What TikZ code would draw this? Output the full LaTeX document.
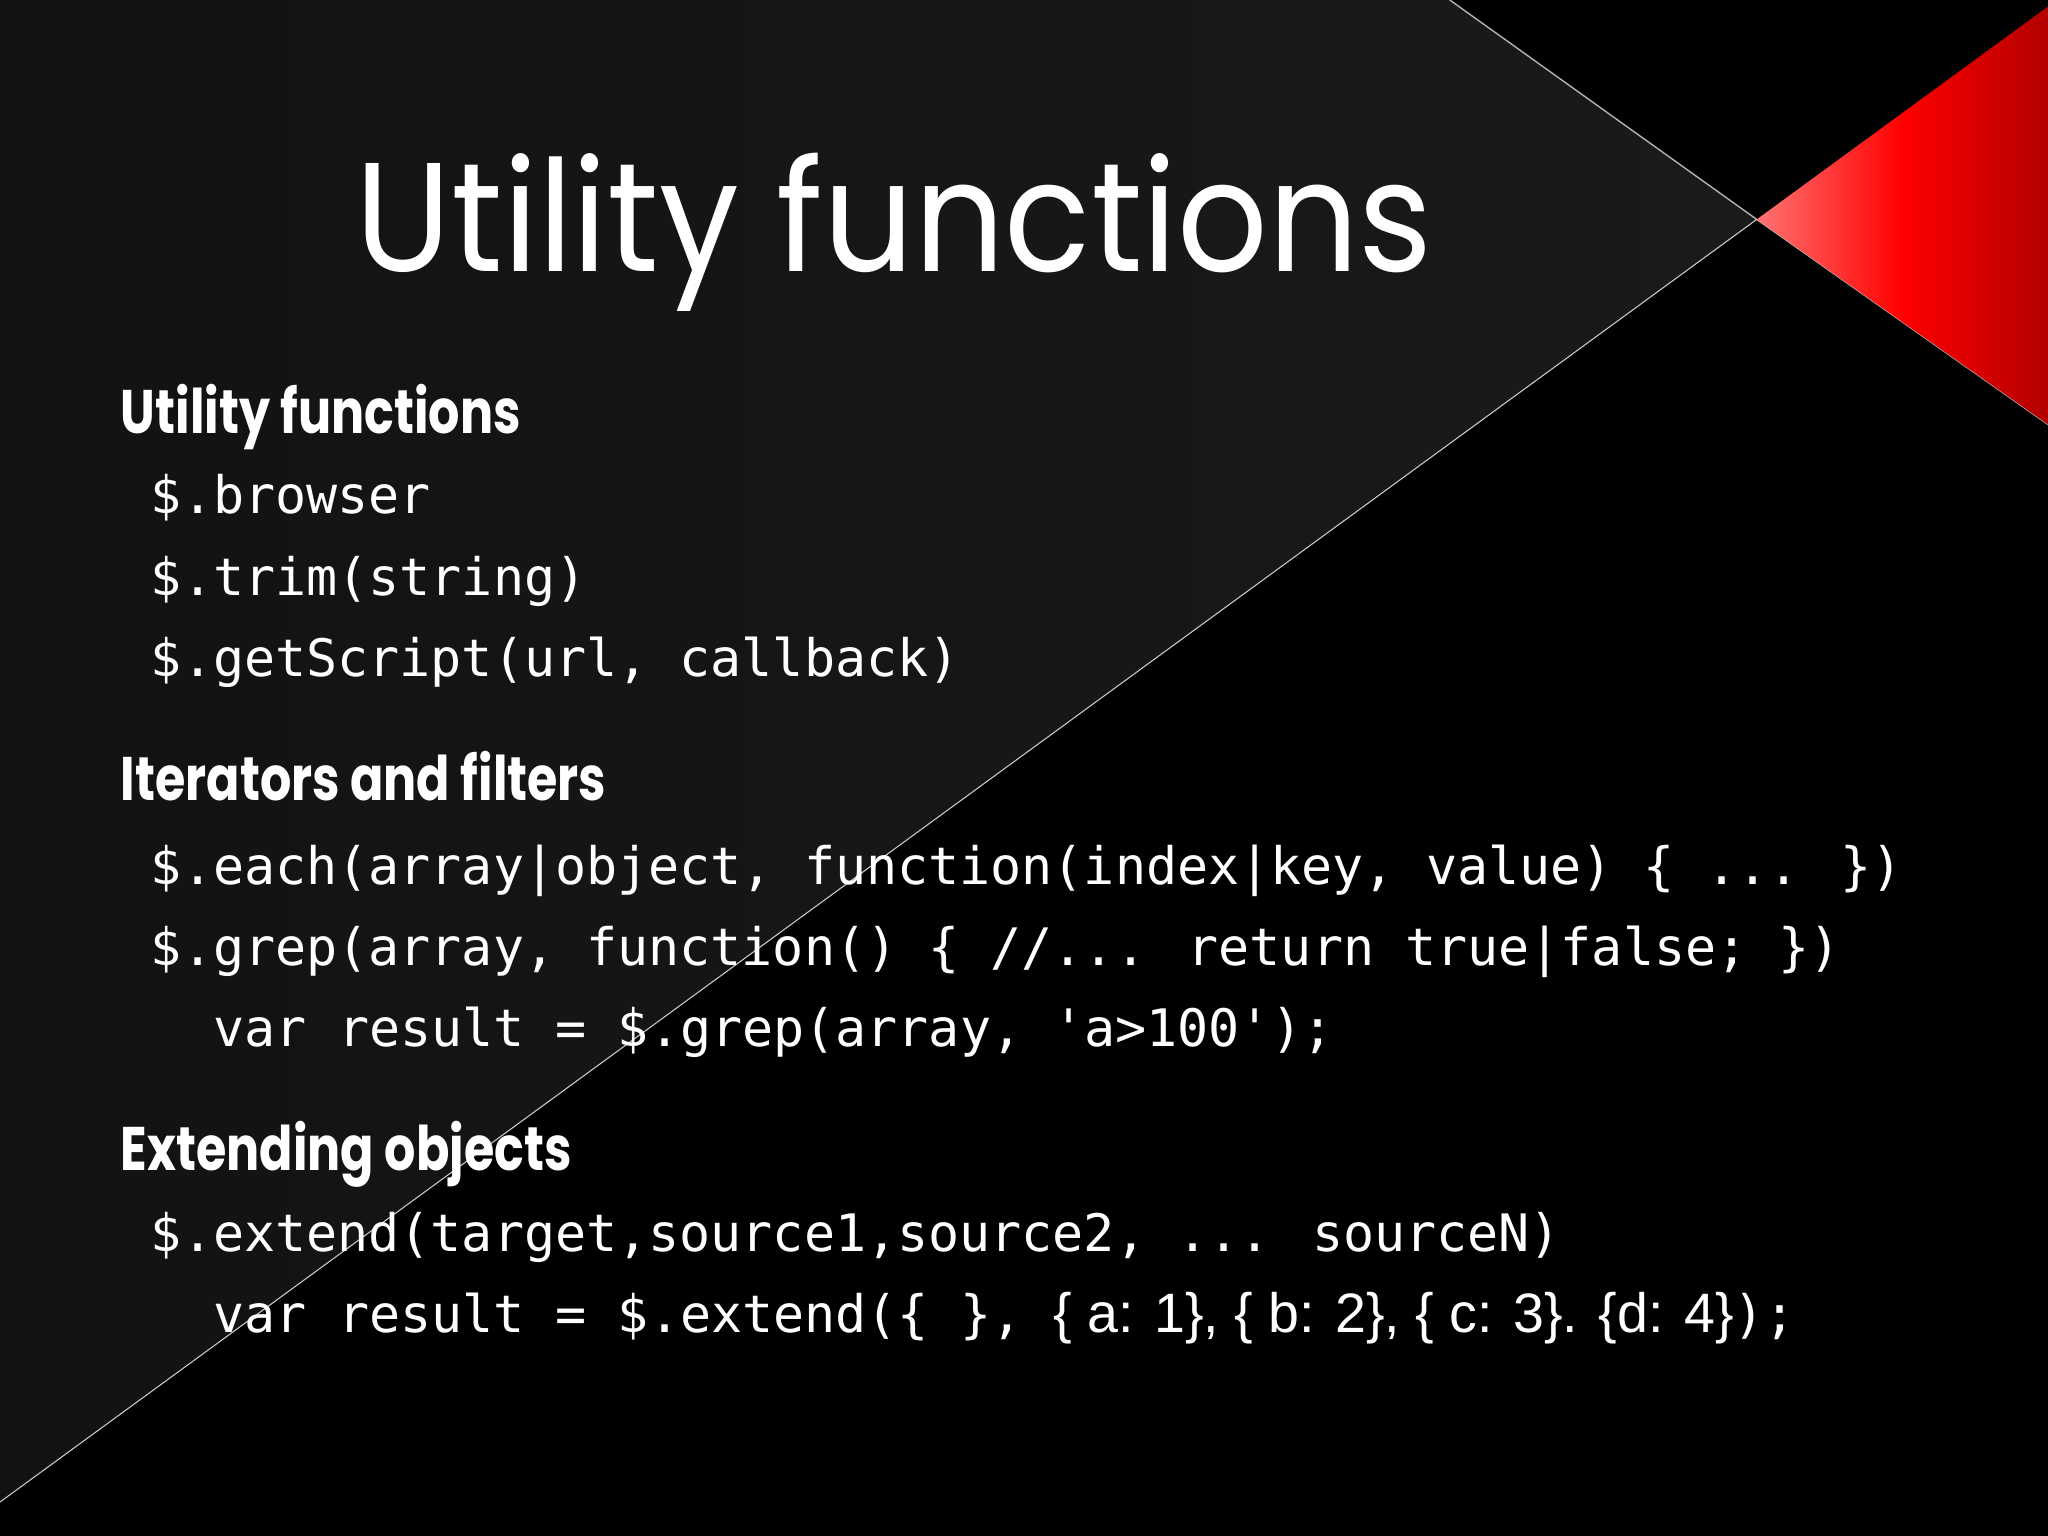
\documentclass[tikz,border=0pt]{standalone}
\usepackage{fontspec}
\setmainfont{Poppins}
\newfontfamily\codefont{DejaVu Sans Mono}
\newfontfamily\arialfont{Liberation Sans}
\usetikzlibrary{shadings}
\definecolor{bgdark}{HTML}{000000}
\definecolor{bggray}{HTML}{1A1A1A}
\tikzset{
  head/.style={anchor=base west,text=white,font=\fontsize{17.5}{20}\selectfont\bfseries,inner sep=0},
  code/.style={anchor=base west,text=white,font=\fontsize{14.7}{17}\codefont,inner sep=0}
}
\begin{document}
\begin{tikzpicture}[x=0.013061cm,y=-0.013061cm]
\useasboundingbox (0,0) rectangle (1568,1176);
\fill[bgdark] (0,0) rectangle (1568,1176);
\shade[left color=bggray!70!black,right color=bggray] (0,0) -- (1110,0) -- (1345,168) -- (0,1150) -- cycle;
\draw[gray!60,line width=0.4pt] (1110,0) -- (1345,168) -- (1568,325);
\draw[gray!40,line width=0.3pt] (1345,168) -- (0,1150);
\shade[left color=red!55!white,right color=red!70!black,middle color=red] (1345,168) -- (1568,5) -- (1568,325) -- cycle;
\node[anchor=base west,text=white,inner sep=0,font=\fontsize{42}{48}\selectfont] (title) at (272,208) {\scalebox{0.96}[1.05]{Utility functions}};
\node[head] (h1) at (92,332) {\scalebox{0.8}[1]{Utility functions}};
\node[code] (c1) at (115,393) {\$.browser};
\node[code] (c2) at (115,456) {\$.trim(string)};
\node[code] (c3) at (115,518) {\$.getScript(url, callback)};
\node[head] (h2) at (92,613) {\scalebox{0.8}[1]{Iterators and filters}};
\node[code] (c4) at (115,677) {\$.each(array|object, function(index|key, value) \{ ... \})};
\node[code] (c5) at (115,739) {\$.grep(array, function() \{ //... return true|false; \})};
\node[code] (c6) at (163,801) {var result = \$.grep(array, 'a>100');};
\node[head] (h3) at (92,896) {\scalebox{0.8}[1]{Extending objects}};
\node[code] (c7) at (115,958) {\$.extend(target,source1,source2, ... sourceN)};
\node[code] (c8) at (163,1020) {var result = \$.extend(\{ \}, {\arialfont\fontsize{15.8}{18}\selectfont\{ a: 1\}, \{ b: 2\}, \{ c: 3\}. \{d: 4\}});};
\end{tikzpicture}
\end{document}
